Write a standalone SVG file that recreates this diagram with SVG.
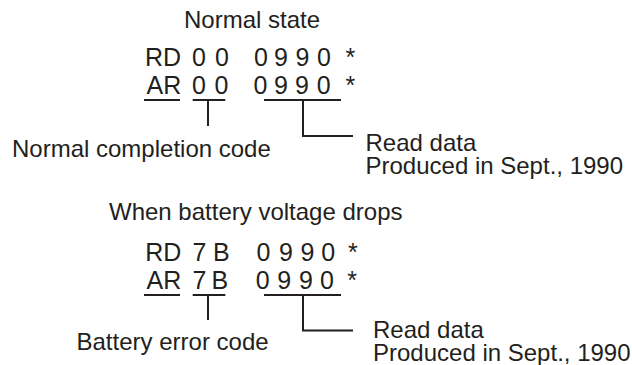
<svg xmlns="http://www.w3.org/2000/svg" width="632" height="365" viewBox="0 0 632 365">
<style>
text{font-family:"Liberation Sans",Arial,sans-serif;fill:#231f20}
.lbl{font-size:24px}
.code{font-size:25px}
.ln{fill:none;stroke:#231f20;stroke-width:2;stroke-linecap:butt;stroke-linejoin:miter}
</style>
<rect width="632" height="365" fill="#ffffff"/>
<g id="normal-title"><text class="lbl" x="184" y="27.5">Normal state</text></g>
<g id="normal-rd"><text class="code" y="65.5"><tspan x="145">RD</tspan> <tspan x="192">0</tspan> <tspan x="215">0</tspan> <tspan x="254">0</tspan> <tspan x="274">9</tspan> <tspan x="295.5">9</tspan> <tspan x="317">0</tspan> <tspan x="345.5">*</tspan></text></g>
<g id="normal-ar"><text class="code" y="93.5"><tspan x="146.5">AR</tspan> <tspan x="192">0</tspan> <tspan x="214.5">0</tspan> <tspan x="253.5">0</tspan> <tspan x="274">9</tspan> <tspan x="295">9</tspan> <tspan x="316.7">0</tspan> <tspan x="345.5">*</tspan></text></g>
<g id="normal-code"><text class="lbl" x="12" y="157">Normal completion code</text></g>
<g id="normal-data"><text class="lbl"><tspan x="365.5" y="151">Read data</tspan><tspan x="365.5" y="174">Produced in Sept., 1990</tspan></text></g>
<g id="battery-title"><text class="lbl" x="109" y="220">When battery voltage drops</text></g>
<g id="battery-rd"><text class="code" y="261"><tspan x="145.3">RD</tspan> <tspan x="192.5">7</tspan> <tspan x="213">B</tspan> <tspan x="256.5">0</tspan> <tspan x="279">9</tspan> <tspan x="300.5">9</tspan> <tspan x="321.3">0</tspan> <tspan x="348">*</tspan></text></g>
<g id="battery-ar"><text class="code" y="289"><tspan x="146.5">AR</tspan> <tspan x="192.5">7</tspan> <tspan x="211.5">B</tspan> <tspan x="255.7">0</tspan> <tspan x="277.3">9</tspan> <tspan x="299">9</tspan> <tspan x="320">0</tspan> <tspan x="347.3">*</tspan></text></g>
<g id="battery-code"><text class="lbl" x="76.5" y="350">Battery error code</text></g>
<g id="battery-data"><text class="lbl"><tspan x="373" y="337.7">Read data</tspan><tspan x="373" y="361">Produced in Sept., 1990</tspan></text></g>
<g id="connectors">
<path class="ln" d="M144 100H180M192.7 100H225.3M208 100V126M264 100H341M303 100V136H353"/>
<path class="ln" d="M144 295H180M192.7 295H225.3M208 295V320M264 295H341M303 295V330.5H353"/>
</g>
</svg>
